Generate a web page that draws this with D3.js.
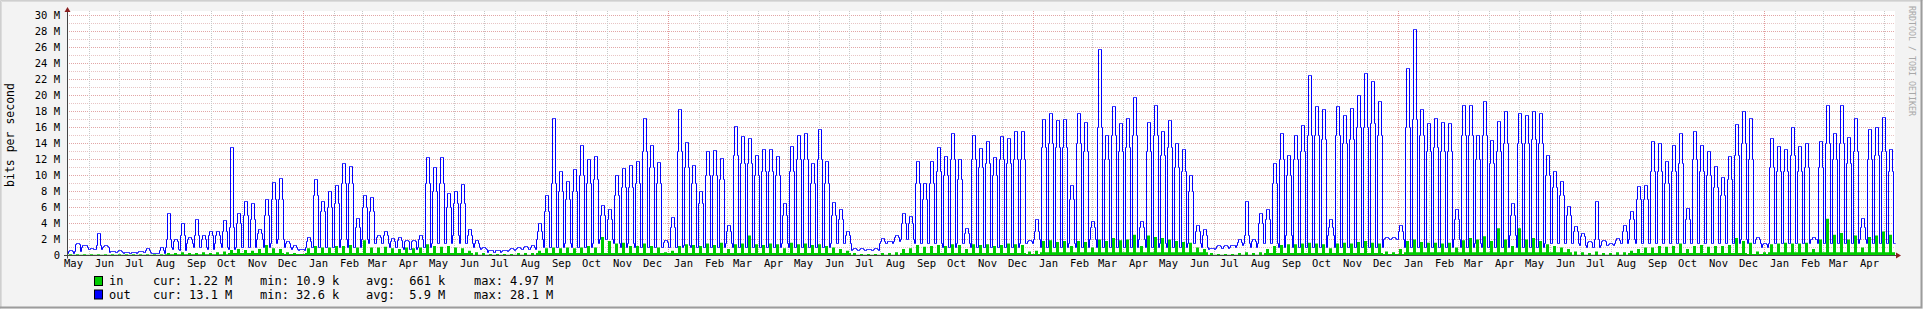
<!DOCTYPE html>
<html><head><meta charset="utf-8">
<script src="https://cdn.jsdelivr.net/npm/d3@7"></script>
<style>html,body{margin:0;padding:0;background:#f3f3f3;}svg{display:block;}text{font-family:"DejaVu Sans Mono",monospace;}</style>
</head><body><svg id="c" width="1923" height="309"></svg>
<script>
// ---- data (values in Mbit/s), one entry per week ----
const startDate = Date.UTC(2008, 4, 10);
const endDate = Date.UTC(2013, 4, 12);
const yTicks = [0, 2, 4, 6, 8, 10, 12, 14, 16, 18, 20, 22, 24, 26, 28, 30];
const yTickLabels = ["0", "2 M", "4 M", "6 M", "8 M", "10 M", "12 M", "14 M", "16 M", "18 M", "20 M", "22 M", "24 M", "26 M", "28 M", "30 M"];
const monthNames = ["Jan","Feb","Mar","Apr","May","Jun","Jul","Aug","Sep","Oct","Nov","Dec"];

// mid-week level of "out"
const outPeak = [
0.6,1.5,1.3,0.9,2.7,1.2,0.5,0.6,0.4,0.4,0.5,0.9,0.3,1.0,
5.2,2.0,4.0,2.3,4.5,2.5,3.0,3.0,4.4,
13.5,5.2,6.7,6.5,3.2,7.0,9.1,9.6,
1.7,1.2,0.8,
2.2,9.5,6.7,8.0,8.7,11.5,11.1,4.6,7.5,7.2,
2.5,3.0,2.1,2.2,1.9,1.9,2.5,
12.3,11.0,12.3,7.7,8.0,8.9,3.2,
1.9,1.0,0.6,0.6,0.6,0.9,1.0,1.1,1.2,
4.0,7.5,17.1,10.5,9.2,10.7,13.7,12.0,12.4,6.3,5.7,10.0,10.9,11.2,11.7,17.1,13.8,11.6,1.9,4.75,
18.2,14.1,11.2,8.0,13.0,13.1,12.1,3.8,16.1,14.9,14.6,12.5,13.2,13.25,12.4,6.5,13.6,15.0,15.2,11.5,15.7,11.7,6.6,5.75,3.0,
0.9,0.9,0.8,0.9,2.1,1.8,2.5,
5.2,4.9,11.7,9.0,11.8,13.5,12.4,15.3,12.0,3.4,15.0,13.4,14.2,12.3,14.9,14.6,15.5,15.5,
1.9,4.5,
17.0,17.7,16.9,17.0,8.7,17.7,16.6,4.2,25.75,15.0,18.6,16.5,17.1,19.8,4.2,16.6,18.8,15.5,16.9,14.0,13.2,10.0,3.8,3.2,
0.9,1.2,1.2,1.3,2.0,6.7,2.0,5.25,
5.75,11.5,15.25,12.5,15.0,16.3,22.5,18.6,18.2,4.5,18.6,17.5,18.4,20.0,22.7,21.8,19.2,
2.3,2.3,3.8,
23.4,28.2,18.25,16.5,17.1,16.6,16.5,5.75,18.8,18.8,15.0,19.2,14.4,16.7,18.0,6.5,17.75,17.5,18.0,17.75,12.5,10.5,9.2,6.1,
3.6,2.75,1.8,6.7,1.9,1.5,2.1,3.8,
5.5,8.6,8.8,14.2,14.0,11.7,13.7,15.25,5.9,15.5,13.7,13.0,11.1,9.8,12.4,16.4,18.0,
17.1,2.3,1.5,
14.6,13.6,13.25,16.0,13.6,14.0,2.3,14.2,18.7,15.25,18.8,14.8,17.1,4.6,15.7,16.0,17.25,13.2,13.1
];
// first / last working day level of "out"
const outShoulder = [
0.5,1.4,1.2,0.8,1.2,1.1,0.5,0.5,0.4,0.4,0.5,0.6,0.3,0.6,
2.0,1.8,2.5,2.0,2.5,2.0,2.5,2.5,3.0,
3.5,4.0,5.0,4.5,2.8,5.0,7.0,7.0,
1.5,1.0,0.7,
1.8,7.5,5.5,6.0,6.5,9.0,9.0,3.5,6.0,5.5,
2.2,2.5,1.8,1.9,1.7,1.7,2.0,
9.0,8.0,9.0,6.0,6.5,6.5,2.5,
1.5,0.9,0.6,0.6,0.6,0.8,0.9,1.0,1.0,
3.0,5.5,9.0,8.0,7.0,8.0,10.0,9.0,9.5,5.0,4.5,7.5,8.5,8.5,9.0,13.0,11.0,9.0,1.6,3.5,
13.0,11.0,9.0,6.5,10.0,10.0,9.5,3.0,12.5,11.5,11.5,10.0,10.5,10.5,10.0,5.0,10.5,12.0,12.0,9.0,12.0,9.0,5.0,4.5,2.5,
0.8,0.8,0.7,0.8,1.8,1.7,2.2,
4.0,4.0,9.0,7.0,9.0,10.5,10.0,12.0,9.5,2.8,12.0,11.0,11.5,10.0,12.0,11.5,12.0,12.0,
1.7,3.0,
13.5,14.0,13.5,13.5,7.0,14.0,13.0,3.5,16.0,12.0,15.0,13.0,13.5,15.0,3.5,13.0,15.0,12.5,13.5,11.0,10.5,8.0,3.0,2.5,
0.9,1.1,1.1,1.2,1.6,2.5,1.8,4.0,
4.5,9.0,12.0,10.0,12.0,13.0,15.0,15.0,14.5,3.5,15.0,14.0,14.5,16.0,16.0,16.5,15.0,
2.1,2.1,3.0,
16.0,17.0,15.0,13.0,13.5,13.0,13.0,4.5,15.0,15.0,12.0,15.0,11.5,13.0,14.0,5.0,14.0,14.0,14.5,14.0,10.0,8.5,7.5,5.0,
3.0,2.4,1.6,2.0,1.7,1.4,1.9,3.0,
4.5,7.0,7.0,10.5,10.5,9.0,10.5,11.5,4.5,12.0,10.5,10.0,8.5,7.5,9.5,12.5,14.0,
12.0,2.0,1.4,
11.0,10.5,10.5,12.5,10.5,11.0,2.0,11.0,14.0,12.0,14.0,11.5,13.0,3.5,12.0,12.5,13.0,10.5,13.1
];
// weekend level of "out"
const outWeekend = [
0.3,0.5,1.0,0.7,0.8,1.0,0.4,0.4,0.3,0.3,0.4,0.4,0.2,0.3,
1.0,0.8,0.6,1.5,1.0,1.0,0.8,1.5,1.0,
0.8,1.0,1.0,1.0,2.0,1.0,1.5,2.0,
1.0,0.7,0.6,
1.0,1.0,1.0,1.0,1.0,2.0,1.0,1.0,2.0,1.5,
1.5,1.5,1.0,1.0,0.8,0.8,1.0,
1.0,1.5,1.5,1.5,2.5,1.5,1.5,
1.0,0.7,0.4,0.4,0.5,0.6,0.8,0.7,0.8,
2.0,1.0,1.0,1.0,1.5,1.0,1.0,1.0,1.5,2.0,2.0,1.5,1.0,1.5,1.0,1.0,1.0,1.0,1.0,1.0,
1.0,1.3,1.0,1.0,1.0,1.0,1.0,1.5,1.0,1.0,1.0,1.0,1.0,1.0,1.0,1.5,1.0,1.0,1.0,1.0,1.0,1.0,1.5,1.5,1.5,
0.6,0.6,0.6,0.6,1.5,1.5,1.7,
2.0,2.0,1.5,1.5,1.5,1.5,1.0,1.0,1.5,1.5,1.0,1.0,1.0,1.0,1.0,1.0,1.0,1.5,
1.5,2.0,
1.0,1.0,1.0,1.0,1.5,1.0,1.0,2.0,1.0,1.0,1.0,1.0,1.0,1.0,2.0,1.0,1.0,1.5,1.0,1.0,1.0,1.5,1.5,1.0,
0.8,0.9,0.9,1.0,1.2,1.5,1.0,1.5,
1.5,1.5,1.0,2.5,1.0,1.0,1.0,1.0,1.0,2.5,1.0,1.0,1.0,1.0,1.0,1.0,1.0,
2.0,2.0,2.0,
1.0,1.0,1.0,1.0,1.0,1.0,1.0,2.0,1.0,1.0,1.5,1.0,1.0,1.0,1.0,2.5,1.0,1.0,1.0,1.0,1.5,1.5,1.5,1.5,
1.5,1.2,1.0,1.0,1.2,1.2,1.5,1.5,
2.0,1.5,1.5,1.5,1.5,1.5,1.5,1.5,1.5,1.5,1.5,1.5,1.5,1.5,1.5,1.5,2.0,
1.5,1.5,1.0,
1.5,1.5,1.5,1.5,1.5,1.5,2.0,1.5,1.5,1.5,1.5,1.5,1.5,2.0,1.5,1.5,1.5,1.5,1.5
];
// mid-week level of "in"
const inPeak = [
0.15,0.15,0.15,0.15,0.15,0.15,0.15,0.15,0.15,0.15,0.15,0.15,0.15,0.15,
0.3,0.3,0.4,0.3,0.3,0.4,0.3,0.4,0.5,
0.7,0.8,0.7,0.6,0.8,1.3,0.9,0.8,
0.4,0.3,0.2,
0.9,1.2,1.0,1.0,1.2,1.2,1.3,1.0,1.9,1.0,
1.0,1.1,0.9,0.8,1.0,0.9,1.0,
1.4,1.2,1.1,1.2,1.0,0.9,0.6,
0.4,0.3,0.2,0.2,0.2,0.2,0.3,0.3,0.3,
0.6,0.9,1.0,0.9,1.0,0.9,1.0,1.2,1.0,2.3,1.8,1.5,1.6,1.2,1.2,1.5,1.2,1.0,0.4,0.6,
1.2,1.4,1.3,1.2,1.5,1.3,1.6,0.8,1.4,1.5,2.5,1.4,1.3,1.5,1.4,0.9,1.6,1.4,1.5,1.3,1.4,1.2,1.0,0.8,0.6,
0.3,0.2,0.2,0.2,0.3,0.3,0.4,
0.8,0.9,1.3,1.1,1.2,1.3,1.2,1.4,1.3,0.8,1.4,1.3,1.4,1.2,1.3,1.5,1.4,1.3,
0.5,0.6,
1.8,1.9,1.7,1.8,1.2,1.8,1.7,1.0,2.0,1.8,2.2,1.9,2.0,2.6,1.2,2.5,2.3,2.2,2.0,1.8,1.7,1.6,1.0,0.8,
0.3,0.2,0.2,0.2,0.3,0.4,0.3,0.4,
0.8,1.2,1.3,1.4,1.4,1.5,1.6,1.5,1.4,0.9,1.5,1.6,1.5,1.7,1.8,1.6,1.5,
0.5,0.4,0.8,
1.8,2.0,1.7,1.6,1.6,1.5,1.6,1.0,1.9,2.2,2.0,2.4,1.8,3.4,2.0,1.2,3.4,2.0,2.2,1.8,1.4,1.2,1.0,0.8,
0.5,0.4,0.3,0.5,0.3,0.3,0.4,0.4,
0.6,0.8,1.0,1.0,1.2,1.1,1.2,1.5,0.8,1.2,1.3,1.1,1.2,1.2,1.3,2.2,1.8,
1.6,0.5,0.4,
1.4,1.5,1.6,1.5,1.5,1.6,0.8,2.0,4.6,2.6,2.8,2.0,2.5,1.0,2.3,2.5,3.0,2.6,1.2
];
// remaining-days level of "in"
const inLow = [
0.1,0.1,0.1,0.1,0.1,0.1,0.1,0.1,0.1,0.1,0.1,0.1,0.1,0.1,
0.15,0.15,0.15,0.15,0.15,0.15,0.15,0.15,0.15,
0.3,0.3,0.3,0.3,0.3,0.3,0.3,0.3,
0.2,0.2,0.2,
0.3,0.3,0.3,0.3,0.3,0.3,0.3,0.3,0.3,0.3,
0.3,0.3,0.3,0.3,0.3,0.3,0.3,
0.3,0.3,0.3,0.3,0.3,0.3,0.3,
0.1,0.1,0.1,0.1,0.1,0.1,0.1,0.1,0.1,
0.3,0.3,0.3,0.3,0.3,0.3,0.3,0.3,0.3,0.3,0.3,0.3,0.3,0.3,0.3,0.3,0.3,0.3,0.3,0.3,
0.3,0.3,0.3,0.3,0.3,0.3,0.3,0.3,0.3,0.3,0.3,0.3,0.3,0.3,0.3,0.3,0.3,0.3,0.3,0.3,0.3,0.3,0.3,0.3,0.3,
0.1,0.1,0.1,0.1,0.1,0.1,0.1,
0.3,0.3,0.3,0.3,0.3,0.3,0.3,0.3,0.3,0.3,0.3,0.3,0.3,0.3,0.3,0.3,0.3,0.3,
0.2,0.2,
0.4,0.4,0.4,0.4,0.4,0.4,0.4,0.4,0.4,0.4,0.4,0.4,0.4,0.4,0.4,0.4,0.4,0.4,0.4,0.4,0.4,0.4,0.4,0.4,
0.1,0.1,0.1,0.1,0.1,0.1,0.1,0.1,
0.3,0.3,0.3,0.3,0.3,0.3,0.3,0.3,0.3,0.3,0.3,0.3,0.3,0.3,0.3,0.3,0.3,
0.2,0.2,0.2,
0.4,0.4,0.4,0.4,0.4,0.4,0.4,0.4,0.4,0.4,0.4,0.4,0.4,0.4,0.4,0.4,0.4,0.4,0.4,0.4,0.4,0.4,0.4,0.4,
0.1,0.1,0.1,0.1,0.1,0.1,0.1,0.1,
0.3,0.3,0.3,0.3,0.3,0.3,0.3,0.3,0.3,0.3,0.3,0.3,0.3,0.3,0.3,0.3,0.3,
0.2,0.2,0.2,
0.4,0.4,0.4,0.4,0.4,0.4,0.4,0.4,0.4,0.4,0.4,0.4,0.4,0.4,0.4,0.4,0.4,0.4,0.4
];
const legendNames = ["in", "out"];
const legendColors = ["#00cc00", "#0000ff"];
const legendCur = ["1.22 M", "13.1 M"];
const legendMin = ["10.9 k", "32.6 k"];
const legendAvg = [" 661 k", " 5.9 M"];
const legendMax = ["4.97 M", "28.1 M"];

// ---- daily series built from the weekly readings ----
const DAY = 864e5;
const nDays = Math.round((endDate - startDate) / DAY);
const pick = (arr, k) => arr[Math.min(k, arr.length - 1)];
const days = [];
for (let d = 0; d < nDays; d++) {
  const k = Math.floor(d / 7), j = d % 7;
  let o;
  if (j === 0 || j === 6) o = pick(outWeekend, k);
  else if (j === 1 || j === 5) o = pick(outShoulder, k);
  else o = pick(outPeak, k);
  const i = (j >= 2 && j <= 4) ? pick(inPeak, k) : pick(inLow, k);
  days.push({t: new Date(startDate + d * DAY), out: o, inn: i});
}
days.push({t: new Date(endDate), out: days[days.length-1].out, inn: days[days.length-1].inn});

// ---- layout ----
const svg = d3.select("#c");
const L = 67, R = 1895, Y0 = 255.5, Y30 = 15.5;
const x = d3.scaleUtc().domain([new Date(startDate), new Date(endDate)]).range([L, R]);
const y = d3.scaleLinear().domain([0, 30]).range([Y0, Y30]);

// background frame
svg.append("rect").attr("x",0).attr("y",0).attr("width",1923).attr("height",309).attr("fill","#f3f3f3");
svg.append("path").attr("d","M0.5,308.5V0.5H1922.5").attr("fill","none").attr("stroke","#cfcfcf");
svg.append("path").attr("d","M1.5,307.5V1.5H1921.5").attr("fill","none").attr("stroke","#dcdcdc");
svg.append("path").attr("d","M0,307.5H1921.5V0").attr("fill","none").attr("stroke","#9c9c9c").attr("stroke-width",2);

// canvas
svg.append("rect").attr("x",L).attr("y",11).attr("width",R-L).attr("height",Y0-11).attr("fill","#ffffff");

const grid = svg.append("g");
d3.range(1, 31).forEach(v => {
  const yy = Math.round(y(v) - 0.5) + 0.5;
  grid.append("line").attr("x1",L).attr("x2",R).attr("y1",yy).attr("y2",yy)
    .attr("stroke", v % 2 === 0 ? "#e2a6a6" : "#e8c4c4").attr("stroke-dasharray","1,1");
});
const months = d3.utcMonth.range(new Date(startDate), new Date(endDate));
months.forEach(m => {
  const xx = Math.round(x(m)) + 0.5;
  const isYear = m.getUTCMonth() === 0;
  grid.append("line").attr("x1",xx).attr("x2",xx).attr("y1",11).attr("y2",Y0)
    .attr("stroke", isYear ? "#e29c9c" : "#c8c8c8").attr("stroke-dasharray","1,1");
});

// series
const area = d3.area().x(d => x(d.t)).y0(y(0)).y1(d => y(d.inn)).curve(d3.curveStepAfter);
svg.append("path").datum(days).attr("d", area).attr("fill", "#00cc00");
const line = d3.line().x(d => Math.round(x(d.t)) + 0.5).y(d => Math.round(y(d.out) - 0.5) + 0.5).curve(d3.curveStepAfter);
svg.append("path").datum(days).attr("d", line).attr("fill","none").attr("stroke","#0000ff").attr("stroke-width",1);

// axes
svg.append("line").attr("x1",L-3).attr("x2",R+2).attr("y1",Y0).attr("y2",Y0).attr("stroke","#444");
svg.append("line").attr("x1",L+0.5).attr("x2",L+0.5).attr("y1",11).attr("y2",Y0+3).attr("stroke","#444");
svg.append("path").attr("d",`M${L+0.5},7 L${L+3.5},12 L${L-2.5},12 Z`).attr("fill","#8a1f1f");
svg.append("path").attr("d",`M${R+6},${Y0} L${R+1},${Y0-3} L${R+1},${Y0+3} Z`).attr("fill","#8a1f1f");

// y labels
svg.append("g").selectAll("text").data(yTicks).join("text")
  .attr("x", 60).attr("y", v => y(v)).attr("dy","0.36em").attr("text-anchor","end")
  .attr("font-size", 10.5).attr("fill","#000").text((v,i) => yTickLabels[i]);

// x labels (month names centred in the month)
const labelMonths = d3.utcMonth.range(new Date(Date.UTC(2008,4,1)), new Date(endDate))
  .filter(m => x(d3.utcHour.offset(m, 372)) < R - 8);
svg.append("g").selectAll("text").data(labelMonths).join("text")
  .attr("x", m => x(d3.utcHour.offset(m, 372))).attr("y", 267).attr("text-anchor","middle")
  .attr("font-size", 10.5).attr("fill","#000").text(m => monthNames[m.getUTCMonth()]);

// vertical unit label
svg.append("text").attr("transform","translate(14,135) rotate(-90)").attr("text-anchor","middle")
  .attr("font-size", 11.5).attr("fill","#000").text("bits per second");

// watermark
svg.append("text").attr("transform","translate(1909,6) rotate(90)").attr("text-anchor","start")
  .attr("font-size", 8.3).attr("fill","#a8a8a8").text("RRDTOOL / TOBI OETIKER");

// legend
const lg = svg.append("g");
legendNames.forEach((n, i) => {
  const yy = 281 + i * 13.5;
  lg.append("rect").attr("x",94.5).attr("y",yy-4.5).attr("width",8).attr("height",9)
    .attr("fill",legendColors[i]).attr("stroke","#000");
  const t = (tx, s) => lg.append("text").attr("x",tx).attr("y",yy).attr("dy","0.36em")
    .attr("font-size",12).attr("fill","#000").style("white-space","pre").text(s);
  t(109, n);
  t(153, "cur:"); t(189, legendCur[i]);
  t(260, "min:"); t(296, legendMin[i]);
  t(366, "avg:"); t(402, legendAvg[i]);
  t(474, "max:"); t(510, legendMax[i]);
});
</script></body></html>
